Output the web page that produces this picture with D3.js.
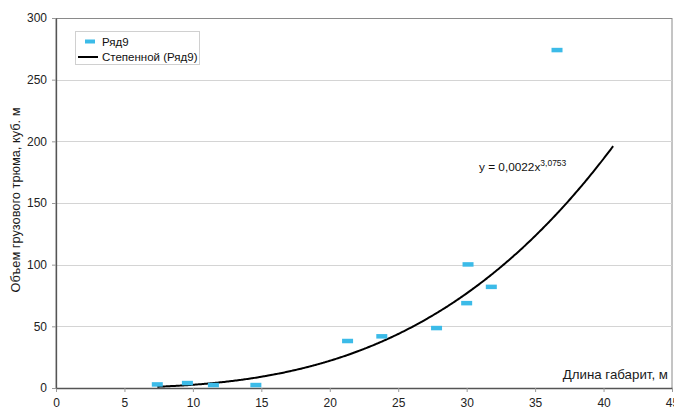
<!DOCTYPE html>
<html>
<head>
<meta charset="utf-8">
<script src="https://cdn.jsdelivr.net/npm/d3@7"></script>
<style>
  html, body { margin: 0; padding: 0; background: #fff; }
  svg { display: block; font-family: "Liberation Sans", Arial, sans-serif; }
</style>
</head>
<body>
<svg id="chart" width="674" height="409"></svg>
<script>
// Vessel length (m) vs cargo hold volume (cubic m)
const lengths = [7.4, 9.6, 11.5, 14.6, 21.3, 23.8, 27.8, 30.0, 30.1, 31.8, 36.6];
const volumes = [2.9, 4.0, 2.4, 2.4, 38.1, 41.9, 48.6, 68.8, 100.2, 82.0, 274];
const seriesName = "Ряд9";
const trendName = "Степенной (Ряд9)";
// Power trendline y = a * x^b
const trendA = 0.0022;
const trendB = 3.0753;
const trendRange = [7.4, 40.7];
const xTicks = [0, 5, 10, 15, 20, 25, 30, 35, 40, 45];
const yTicks = [0, 50, 100, 150, 200, 250, 300];

const svg = d3.select("#chart");
const plot = { left: 56, right: 672, top: 18, bottom: 388 };

const x = d3.scaleLinear().domain([0, 45]).range([plot.left, plot.right]);
const y = d3.scaleLinear().domain([0, 300]).range([plot.bottom, plot.top]);

// plot frame
svg.append("rect")
  .attr("x", plot.left).attr("y", plot.top + 0.5)
  .attr("width", plot.right - plot.left).attr("height", plot.bottom - plot.top)
  .attr("fill", "none").attr("stroke", "#8a8a8a").attr("stroke-width", 1);

// horizontal gridlines
svg.append("g")
  .selectAll("line")
  .data(yTicks.filter(d => d > 0 && d < 300))
  .join("line")
  .attr("x1", plot.left).attr("x2", plot.right)
  .attr("y1", d => Math.round(y(d)) + 0.5).attr("y2", d => Math.round(y(d)) + 0.5)
  .attr("stroke", "#d4d4d4").attr("stroke-width", 1);

// axes
const xAxis = svg.append("g")
  .attr("transform", `translate(0,${plot.bottom})`)
  .call(d3.axisBottom(x).tickValues(xTicks).tickSize(4).tickSizeOuter(0).tickPadding(6));
const yAxis = svg.append("g")
  .attr("transform", `translate(${plot.left},0)`)
  .call(d3.axisLeft(y).tickValues(yTicks).tickSize(4).tickSizeOuter(0).tickPadding(5));
[xAxis, yAxis].forEach(g => {
  g.select(".domain").attr("stroke", "#555").attr("stroke-width", 1.3);
  g.selectAll(".tick line").attr("stroke", "#999");
  g.selectAll(".tick text").attr("fill", "#222").style("font-size", "12px")
    .style("font-family", "'Liberation Sans', Arial, sans-serif");
});

// trendline
const trendPts = d3.range(trendRange[0], trendRange[1] + 0.001, 0.1)
  .map(v => [v, trendA * Math.pow(v, trendB)]);
svg.append("path")
  .datum(trendPts)
  .attr("fill", "none")
  .attr("stroke", "#000")
  .attr("stroke-width", 2)
  .attr("d", d3.line().x(d => x(d[0])).y(d => y(d[1])).curve(d3.curveMonotoneX));

// data markers (short dashes)
const mw = 11, mh = 4.5;
svg.append("g")
  .selectAll("rect")
  .data(lengths.map((l, i) => [l, volumes[i]]))
  .join("rect")
  .attr("x", d => x(d[0]) - mw / 2)
  .attr("y", d => y(d[1]) - mh / 2)
  .attr("width", mw).attr("height", mh)
  .attr("fill", "#3cbbe8");

// trend equation
const eq = svg.append("text")
  .attr("x", 479).attr("y", 171)
  .attr("fill", "#111").style("font-size", "11.8px");
eq.append("tspan").text("y = 0,0022x");
eq.append("tspan").attr("dy", -5).style("font-size", "8.5px").text("3,0753");

// axis titles
svg.append("text")
  .attr("x", 668).attr("y", 379)
  .attr("text-anchor", "end")
  .attr("fill", "#1a1a1a").style("font-size", "13.3px")
  .text("Длина габарит, м");
svg.append("text")
  .attr("transform", "translate(20,200) rotate(-90)")
  .attr("text-anchor", "middle")
  .attr("fill", "#1a1a1a").style("font-size", "12.8px")
  .text("Объем грузового трюма, куб. м");

// legend
const lg = svg.append("g");
lg.append("rect")
  .attr("x", 75.5).attr("y", 31.5).attr("width", 124).attr("height", 33)
  .attr("fill", "#fff").attr("stroke", "#d0d0d0");
lg.append("rect")
  .attr("x", 85).attr("y", 39.5).attr("width", 10).attr("height", 4)
  .attr("fill", "#3cbbe8");
lg.append("text")
  .attr("x", 102).attr("y", 45.5)
  .attr("fill", "#111").style("font-size", "11.5px")
  .text(seriesName);
lg.append("line")
  .attr("x1", 78).attr("x2", 98).attr("y1", 57).attr("y2", 57)
  .attr("stroke", "#000").attr("stroke-width", 2);
lg.append("text")
  .attr("x", 102).attr("y", 61)
  .attr("fill", "#111").style("font-size", "11.5px")
  .text(trendName);
</script>
</body>
</html>
